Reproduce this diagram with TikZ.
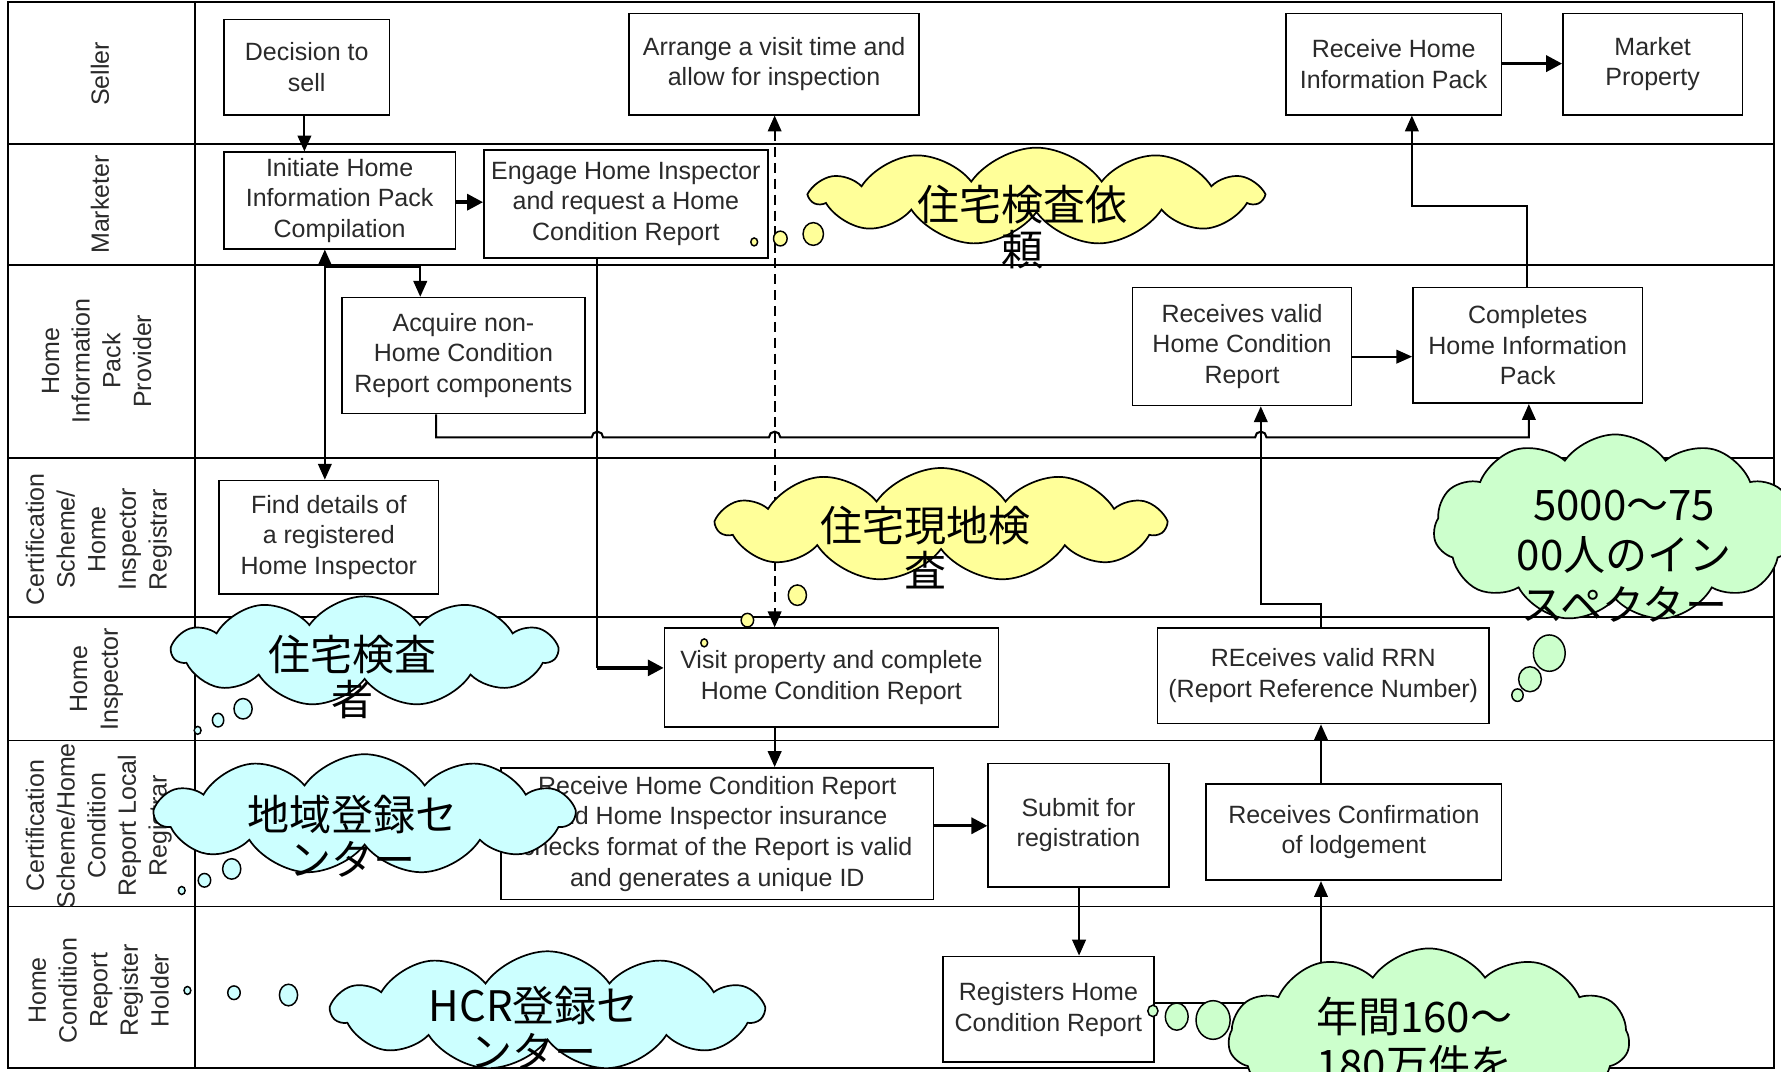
\documentclass[tikz,border=0pt]{standalone}
\usepackage{fontspec}
\setmainfont{Liberation Sans}
\newfontfamily\jpfont{Noto Sans CJK JP}
\usetikzlibrary{shapes.symbols,arrows.meta}
\definecolor{cyel}{HTML}{FFFF99}
\definecolor{ccyan}{HTML}{CCFFFF}
\definecolor{cgreen}{HTML}{CCFFCC}
\definecolor{txt}{HTML}{2A2A2A}
\begin{document}
\begin{tikzpicture}[x=1pt,y=-1pt,
  lane/.style={line width=1.6pt},
  box/.style={draw, line width=1.4pt, align=center, inner sep=0pt, text=txt, font=\fontsize{22}{27}\selectfont},
  lbl/.style={rotate=90, align=center, text=txt, font=\fontsize{22}{27}\selectfont},
  tip/.tip={Triangle[length=14pt,width=12pt]},
  flow/.style={line width=1.8pt, -tip},
  thickflow/.style={line width=3pt, -{Triangle[length=14pt,width=14pt]}},
  cl/.style={cloud, cloud puffs=11, cloud puff arc=110, cloud ignores aspect, draw, line width=1.5pt, inner sep=0pt},
  bub/.style={draw, line width=1.3pt},
  cjk/.style={align=center, font=\jpfont\fontsize{37}{40}\selectfont}
]
\useasboundingbox (0,0) rectangle (1568,943);
\clip (0,0) rectangle (1568,943);
\fill[white] (0,0) rectangle (1568,943);

% frame and lanes
\draw[lane] (7,2) rectangle (1562,940);
\draw[lane] (172,2) -- (172,940);
\foreach \yy in {127,233,403,543,652,798} \draw[lane] (7,\yy) -- (1562,\yy);

% lane labels
\node[lbl] (lseller) at (88,65) {Seller};
\node[lbl] (lmkt) at (88,180) {Marketer};
\node[lbl] (lhipp) at (85,318) {Home\\Information\\Pack\\Provider};
\node[lbl] (lcert) at (87,475) {Certification\\Scheme/\\Home\\Inspector\\Registrar};
\node[lbl] (lhi) at (85,598) {Home\\Inspector};
\node[lbl] (lloc) at (87,727) {Certification\\Scheme/Home\\Condition\\Report Local\\Registrar};
\node[lbl] (lhold) at (87,872) {Home\\Condition\\Report\\Register\\Holder};

% boxes
\node[box, minimum width=146pt, minimum height=84pt] (dec) at (270,59) {Decision to\\sell};
\node[box, minimum width=255pt, minimum height=89pt] (arr) at (681.5,56.5) {Arrange a visit time and\\allow for inspection};
\node[box, minimum width=190pt, minimum height=89pt] (rhip) at (1227,56.5) {Receive Home\\Information Pack};
\node[box, minimum width=158pt, minimum height=89pt] (mkt) at (1455,56.5) {Market\\Property};
\node[box, minimum width=204pt, minimum height=85pt] (init) at (299,176.5) {Initiate Home\\Information Pack\\Compilation};
\node[box, minimum width=250pt, minimum height=95pt] (eng) at (551,179.5) {Engage Home Inspector\\and request a Home\\Condition Report};
\node[box, minimum width=214pt, minimum height=102pt] (acq) at (408,313) {Acquire non-\\Home Condition\\Report components};
\node[box, minimum width=193pt, minimum height=104pt] (rvh) at (1093.5,305) {Receives valid\\Home Condition\\Report};
\node[box, minimum width=202pt, minimum height=102pt] (comp) at (1345,304) {Completes\\Home Information\\Pack};
\node[box, minimum width=193pt, minimum height=100pt] (find) at (289.5,473) {Find details of\\a registered\\Home Inspector};
\node[box, minimum width=294pt, minimum height=87pt] (visit) at (732,596.5) {Visit property and complete\\Home Condition Report};
\node[box, minimum width=292pt, minimum height=84pt] (rrn) at (1165,595) {REceives valid RRN\\(Report Reference Number)};
\node[box, minimum width=381pt, minimum height=116pt] (rhcr) at (631.5,734) {Receive Home Condition Report\\and Home Inspector insurance\\checks format of the Report is valid\\and generates a unique ID};
\node[box, minimum width=159pt, minimum height=109pt] (sub) at (949.5,726.5) {Submit for\\registration};
\node[box, minimum width=260pt, minimum height=85pt] (conf) at (1192,732.5) {Receives Confirmation\\of lodgement};
\node[box, minimum width=186pt, minimum height=93pt] (reg) at (923,888.5) {Registers Home\\Condition Report};

% helper coordinates
\coordinate (k1) at (268,0);
\coordinate (k2) at (0,178);
\coordinate (k3) at (286,235);
\coordinate (k4) at (370,235);
\coordinate (k5) at (526,588);
\coordinate (k6) at (682,0);
\coordinate (k7) at (384,385);
\coordinate (k8) at (1346,385);
\coordinate (k9) at (0,314);
\coordinate (k10) at (1344,181);
\coordinate (k11) at (1243,181);
\coordinate (k12) at (0,56);
\coordinate (k13) at (0,727);
\coordinate (k14) at (950,0);
\coordinate (k15) at (1163,883);
\coordinate (k16) at (1163,532);
\coordinate (k17) at (1110,532);

% connectors
\draw[flow] (dec.south -| k1) -- (init.north -| k1);
\draw[thickflow] (init.east |- k2) -- (eng.west |- k2);
\draw[line width=1.8pt, tip-tip] (init.south -| k3) -- (find.north -| k3);
\draw[flow] (k3) -- (k4) -- (acq.north -| k4);
\draw[line width=1.8pt] (eng.south -| k5) -- (k5);
\draw[thickflow] (k5) -- (visit.west |- k5);
\draw[line width=1.5pt, dash pattern=on 9pt off 5pt, tip-tip] (arr.south -| k6) -- (visit.north -| k6);
\draw[flow] (acq.south -| k7) -- (k7) -- (521,385) arc[start angle=180, end angle=0, radius=5pt]
  -- (677,385) arc[start angle=180, end angle=0, radius=5pt]
  -- (1105,385) arc[start angle=180, end angle=0, radius=5pt]
  -- (k8) -- (comp.south -| k8);
\draw[flow] (rvh.east |- k9) -- (comp.west |- k9);
\draw[flow] (comp.north -| k10) -- (k10) -- (k11) -- (rhip.south -| k11);
\draw[thickflow] (rhip.east |- k12) -- (mkt.west |- k12);
\draw[flow] (visit.south -| k6) -- (rhcr.north -| k6);
\draw[thickflow] (rhcr.east |- k13) -- (sub.west |- k13);
\draw[flow] (sub.south -| k14) -- (reg.north -| k14);
\draw[flow] (reg.east |- k15) -- (k15) -- (conf.south -| k15);
\draw[flow] (conf.north -| k15) -- (rrn.south -| k15);
\draw[flow] (rrn.north -| k16) -- (k16) -- (k17) -- (rvh.south -| k17);

% clouds
\node[cl, fill=cyel, minimum width=395pt, minimum height=86pt] (cl1) at (912.5,173) {};
\draw[bub, fill=cyel] (716,206) ellipse [x radius=9pt, y radius=10pt];
\draw[bub, fill=cyel] (687,210) ellipse [x radius=6pt, y radius=6.5pt];
\draw[bub, fill=cyel] (664,213) ellipse [x radius=3pt, y radius=3.5pt];
\node[cjk] (t1) at (900,200) {住宅検査依\\頼};

\node[cl, fill=cyel, minimum width=393pt, minimum height=100pt] (cl2) at (828.5,462) {};
\draw[bub, fill=cyel] (702,524) ellipse [x radius=8pt, y radius=9pt];
\draw[bub, fill=cyel] (658,546) ellipse [x radius=5.5pt, y radius=6pt];
\draw[bub, fill=cyel] (620,566) ellipse [x radius=3pt, y radius=3.5pt];
\node[cjk] (t2) at (815,482) {住宅現地検\\査};

\node[cl, fill=ccyan, minimum width=338pt, minimum height=97pt] (cl3) at (321,573.5) {};
\draw[bub, fill=ccyan] (214,624) ellipse [x radius=8pt, y radius=9pt];
\draw[bub, fill=ccyan] (192,634) ellipse [x radius=5pt, y radius=6pt];
\draw[bub, fill=ccyan] (174,643) ellipse [x radius=3pt, y radius=3.5pt];
\node[cjk] (t3) at (310,596) {住宅検査\\者};

\node[cl, fill=ccyan, minimum width=368pt, minimum height=106pt] (cl4) at (321,717) {};
\draw[bub, fill=ccyan] (204,765) ellipse [x radius=8pt, y radius=9pt];
\draw[bub, fill=ccyan] (180,775) ellipse [x radius=5.5pt, y radius=6pt];
\draw[bub, fill=ccyan] (160,784) ellipse [x radius=3pt, y radius=3.5pt];
\node[cjk] (t4) at (310,736) {地域登録セ\\ンター};

\node[cl, fill=ccyan, minimum width=379pt, minimum height=105pt] (cl5) at (482,890) {};
\draw[bub, fill=ccyan] (254,876) ellipse [x radius=8pt, y radius=9.5pt];
\draw[bub, fill=ccyan] (206,874) ellipse [x radius=5.5pt, y radius=6pt];
\draw[bub, fill=ccyan] (165,872) ellipse [x radius=3pt, y radius=3.5pt];
\node[cjk] (t5) at (470,905) {HCR登録セ\\ンター};

\node[cl, fill=cgreen, minimum width=320pt, minimum height=165pt] (cl6) at (1422,465) {};
\draw[bub, fill=cgreen] (1364,575) ellipse [x radius=14pt, y radius=16pt];
\draw[bub, fill=cgreen] (1347,598) ellipse [x radius=10pt, y radius=11pt];
\draw[bub, fill=cgreen] (1336,612) ellipse [x radius=5pt, y radius=5.5pt];
\node[cjk, font=\jpfont\fontsize{37}{44}\selectfont] (t6) at (1430,490) {5000～75\\00人のイン\\スペクター};

\node[cl, fill=cgreen, minimum width=353pt, minimum height=160pt] (cl7) at (1258,915) {};
\draw[bub, fill=cgreen] (1068,898) ellipse [x radius=15pt, y radius=17pt];
\draw[bub, fill=cgreen] (1036,895) ellipse [x radius=10pt, y radius=12pt];
\draw[bub, fill=cgreen] (1015,890) ellipse [x radius=4.5pt, y radius=5pt];
\node[cjk, font=\jpfont\fontsize{37}{43}\selectfont] (t7) at (1245,916) {年間160～\\180万件を};
\end{tikzpicture}
\end{document}
